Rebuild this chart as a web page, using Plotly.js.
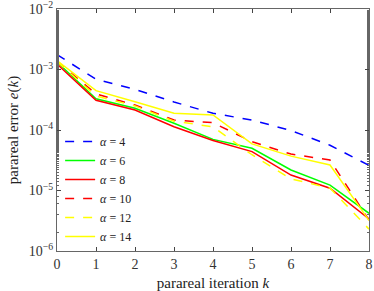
<!DOCTYPE html>
<html><head><meta charset="utf-8">
<script src="https://cdn.plot.ly/plotly-3.0.1.min.js"></script>
<style>html,body{margin:0;padding:0;background:#fff}#chart{width:374px;height:291px}</style>
</head><body><div id="chart"></div>
<script>
const iterations = [0,1,2,3,4,5,6,7,8];
const alpha4  = [1.76e-3, 6.9e-4, 4.7e-4, 2.9e-4, 1.89e-4, 1.46e-4, 9.8e-5, 5.6e-5, 2.6e-5];
const alpha6  = [1.33e-3, 3.29e-4, 2.29e-4, 1.29e-4, 7.0e-5, 4.98e-5, 2.18e-5, 1.23e-5, 4.2e-6];
const alpha8  = [1.23e-3, 3.1e-4, 2.14e-4, 1.13e-4, 6.7e-5, 4.4e-5, 1.8e-5, 1.09e-5, 3.4e-6];
const alpha10 = [1.37e-3, 3.94e-4, 2.59e-4, 1.46e-4, 1.32e-4, 6.4e-5, 4.0e-5, 3.19e-5, 3.25e-6];
const alpha12 = [1.35e-3, 3.65e-4, 2.5e-4, 1.4e-4, 1.13e-4, 3.9e-5, 1.55e-5, 1.1e-5, 2.3e-6];
const alpha14 = [1.4e-3, 4.47e-4, 2.94e-4, 1.89e-4, 1.77e-4, 5.9e-5, 3.7e-5, 2.64e-5, 3.2e-6];
const seriesNames = ['<i>α</i> = 4','<i>α</i> = 6','<i>α</i> = 8','<i>α</i> = 10','<i>α</i> = 12','<i>α</i> = 14'];
const yTickVals = [1e-6,1e-5,1e-4,1e-3,1e-2];
const yTickText = ['10<sup>−6</sup>','10<sup>−5</sup>','10<sup>−4</sup>','10<sup>−3</sup>','10<sup>−2</sup>'];

const data = [alpha4,alpha6,alpha8,alpha10,alpha12,alpha14];
const colors = ['#0000ff','#00ff00','#ff0000','#ff0000','#ffff00','#ffff00'];
const dashes = ['dash','solid','solid','dash','dash','solid'];
const traces = data.map((d,i)=>({x:iterations,y:d,type:'scatter',mode:'lines',name:seriesNames[i],
  line:{color:colors[i],width:1.5,dash:dashes[i]}}));
const fam = '"Liberation Serif", "DejaVu Serif", serif';
const layout = {
  width:374,height:291,margin:{l:57,r:5,t:9,b:40},
  paper_bgcolor:'#fff',plot_bgcolor:'#fff',font:{family:fam,color:'#333',size:13},showlegend:true,
  legend:{x:0.01,y:0.0,xanchor:'left',yanchor:'bottom',bgcolor:'rgba(255,255,255,0)',
    font:{family:fam,size:12,color:'#222'},tracegroupgap:0},
  xaxis:{range:[0,8],dtick:1,tick0:0,ticks:'inside',ticklen:4,tickcolor:'#444',mirror:'ticks',
    showline:true,linecolor:'#666',linewidth:1,showgrid:false,zeroline:false,
    tickfont:{family:fam,size:14,color:'#333'},ticklabeloverflow:'allow',
    title:{text:'parareal iteration <i>k</i>',font:{family:fam,size:15,color:'#222'},standoff:6}},
  yaxis:{type:'log',range:[-6,-2],tickvals:yTickVals,ticktext:yTickText,ticks:'inside',ticklen:4,
    tickcolor:'#444',mirror:'ticks',showline:true,linecolor:'#666',linewidth:1,showgrid:false,zeroline:false,
    minor:{ticks:'inside',ticklen:2,tickcolor:'#666',showgrid:false},
    tickfont:{family:fam,size:14,color:'#333'},ticklabeloverflow:'allow',
    title:{text:'parareal error <i>e</i>(<i>k</i>)',font:{family:fam,size:15,color:'#222'},standoff:6}}
};
Plotly.newPlot('chart',traces,layout,{staticPlot:true,displayModeBar:false});
</script></body></html>
